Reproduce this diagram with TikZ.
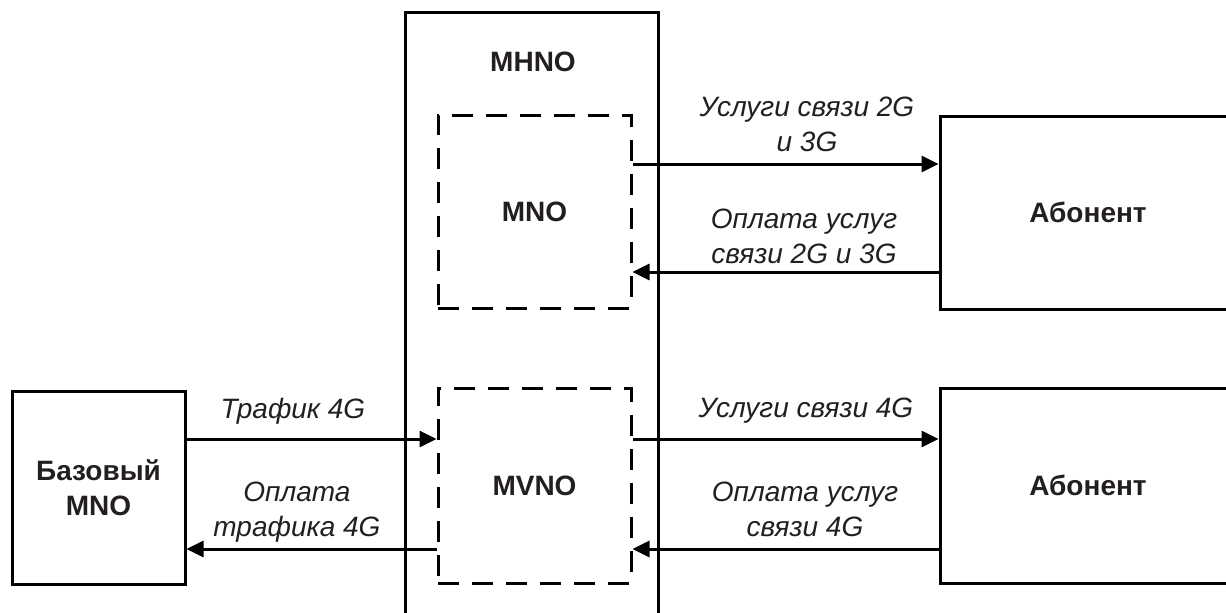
\documentclass[tikz,border=0pt]{standalone}
\usepackage{fontspec}
\setmainfont{Liberation Sans}
\usetikzlibrary{arrows.meta,positioning}
\definecolor{inkgray}{HTML}{231F20}

\begin{document}
\begin{tikzpicture}[x=0.5pt,y=-0.5pt,
  box/.style={draw, line width=1.5pt, inner sep=0pt, align=center,
    font=\fontsize{14}{17.5}\selectfont\bfseries, text=inkgray},
  dashbox/.style={box, dash pattern=on 10.5pt off 6.5pt},
  title/.style={font=\fontsize{14}{17.5}\selectfont\bfseries, text=inkgray},
  flow/.style={line width=1.5pt, -{Triangle[length=8.5pt,width=8pt]}},
  lbl/.style={font=\fontsize{14}{17.5}\selectfont\itshape, text=inkgray, align=center}
]
  \useasboundingbox (0,0) rectangle (1226,612);
  \clip (0,0) rectangle (1226,612);

  % MHNO frame
  \node[box, minimum width=126.5pt, minimum height=318pt] (mhno) at (531.5,330) {};
  \node[title] (mhnolbl) at (533,62) {MHNO};

  % Inner operators
  \node[dashbox, minimum width=96.5pt, minimum height=96.5pt] (mno) at (534.5,211.5) {MNO};
  \node[dashbox, minimum width=96.5pt, minimum height=97.5pt] (mvno) at (534.5,485.5) {MVNO};

  % Subscribers
  \node[box, minimum width=148pt, minimum height=96.5pt] (ab1) at (1088,212.5) {Абонент};
  \node[box, minimum width=148pt, minimum height=97.5pt] (ab2) at (1088,485.5) {Абонент};

  % Base operator
  \node[box, minimum width=86.5pt, minimum height=96.5pt] (base) at (98.5,487.5) {Базовый\\MNO};

  % Flows MNO <-> subscriber
  \coordinate (s1) at ([yshift=23.75pt]mno.east);
  \coordinate (r1) at ([yshift=-29.75pt]ab1.west);
  \draw[flow] (s1) -- (s1 -| ab1.west);
  \draw[flow] (r1) -- (r1 -| mno.east);

  % Flows MVNO <-> subscriber
  \coordinate (s2) at ([yshift=23.25pt]mvno.east);
  \coordinate (r2) at ([yshift=-31.75pt]ab2.west);
  \draw[flow] (s2) -- (s2 -| ab2.west);
  \draw[flow] (r2) -- (r2 -| mvno.east);

  % Flows base MNO <-> MVNO
  \coordinate (s3) at ([yshift=24.25pt]base.east);
  \coordinate (r3) at ([yshift=-31.75pt]mvno.west);
  \draw[flow] (s3) -- (s3 -| mvno.west);
  \draw[flow] (r3) -- (r3 -| base.east);

  % Labels
  \node[lbl] (svc23) at (807,124) {Услуги связи 2G\\и 3G};
  \node[lbl] (pay23) at (804,236) {Оплата услуг\\связи 2G и 3G};
  \node[lbl] (svc4) at (806,411) {Услуги связи 4G};
  \node[lbl] (pay4) at (805,509) {Оплата услуг\\связи 4G};
  \node[lbl] (traf) at (293,411) {Трафик 4G};
  \node[lbl] (paytraf) at (297,512) {Оплата\\трафика 4G};
\end{tikzpicture}
\end{document}
